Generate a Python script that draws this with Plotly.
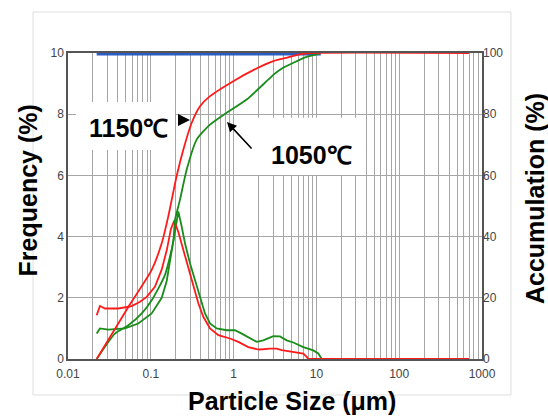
import plotly.graph_objects as go

# ---------------- data ----------------
# particle size in micrometres
red_freq_x = [0.0222, 0.0243, 0.0280, 0.0405, 0.0588, 0.0741, 0.0892, 0.112, 0.135, 0.156,
              0.175, 0.192, 0.215, 0.247, 0.284, 0.326, 0.375, 0.431, 0.519, 0.654,
              0.905, 1.14, 1.505, 1.90, 2.08, 2.75, 3.32, 3.81, 5.26, 6.95, 7.64, 7.98, 697]
red_freq_y = [1.43, 1.73, 1.65, 1.65, 1.73, 1.87, 2.03, 2.36, 2.91, 3.56,
              4.25, 4.52, 4.15, 3.56, 2.91, 2.36, 1.82, 1.38, 1.00, 0.78,
              0.67, 0.56, 0.39, 0.32, 0.31, 0.34, 0.34, 0.29, 0.23, 0.18, 0.07, 0.0, 0.0]

green_freq_x = [0.0222, 0.0243, 0.0307, 0.0488, 0.0706, 0.1025, 0.1354, 0.1556, 0.1705, 0.1869,
                0.205, 0.215, 0.236, 0.2588, 0.2974, 0.3418, 0.3928, 0.4514, 0.519, 0.625,
                0.8255, 1.04, 1.253, 1.578, 1.90, 2.284, 3.016, 3.635, 4.378, 5.26,
                6.947, 9.176, 10.54, 11.59]
green_freq_y = [0.83, 1.00, 0.96, 1.00, 1.16, 1.49, 2.00, 2.55, 3.20, 3.85,
                4.60, 4.82, 4.33, 3.78, 3.13, 2.58, 2.03, 1.49, 1.16, 1.00,
                0.94, 0.94, 0.83, 0.67, 0.56, 0.61, 0.75, 0.74, 0.61, 0.54,
                0.39, 0.28, 0.18, 0.0]

# accumulation (%)
red_cum_x = [0.0222, 0.0535, 0.1025, 0.1354, 0.1627, 0.1788, 0.205, 0.247, 0.312, 0.393,
             0.519, 0.991, 1.73, 3.07, 4.46, 6.46, 8.53, 697]
red_cum_y = [0, 17.0, 29.1, 37.8, 46.6, 52.0, 59.7, 68.4, 77.2, 82.6,
             85.9, 90.8, 94.4, 97.4, 98.5, 99.6, 100, 100]

green_cum_x = [0.0222, 0.0369, 0.0535, 0.0777, 0.1025, 0.1484, 0.1869, 0.196, 0.225, 0.272,
               0.358, 0.519, 0.8255, 1.44, 3.07, 3.71, 5.36, 7.77, 10.3, 11.3]
green_cum_y = [0, 8.3, 11.0, 14.9, 19.2, 27.5, 38.5, 45.5, 52.0, 62.0,
               71.7, 76.6, 80.5, 84.8, 93.0, 94.7, 96.9, 98.8, 99.6, 100]

blue_x = [0.0222, 11.3]
blue_y = [100, 100]

# tick labels
x_decades = [0.01, 0.1, 1, 10, 100, 1000]
x_decade_labels = ["0.01", "0.1", "1", "10", "100", "1000"]
y_left_ticks = [0, 2, 4, 6, 8, 10]
y_right_ticks = [0, 20, 40, 60, 80, 100]

RED = "#ff1a1a"
GREEN = "#1a8c1a"
BLUE = "#2a5cc4"
GRID = "#a6a6a6"
TICKFONT = dict(family="Liberation Sans Narrow, Arial Narrow, Liberation Sans, Arial", size=12, color="#444444")
TITLEFONT = dict(family="Liberation Sans, Arial", size=25, color="black")

# all grid positions on the log axis (1..9 x 10^k)
x_tickvals, x_ticktext = [], []
for d, lab in zip(x_decades, x_decade_labels):
    x_tickvals.append(d)
    x_ticktext.append(lab)
    if d < 1000:
        for m in range(2, 10):
            x_tickvals.append(d * m)
            x_ticktext.append("")

fig = go.Figure()
fig.add_trace(go.Scatter(x=blue_x, y=blue_y, mode="lines", yaxis="y2", cliponaxis=False,
                         line=dict(color=BLUE, width=5), showlegend=False))
fig.add_trace(go.Scatter(x=green_cum_x, y=green_cum_y, mode="lines", yaxis="y2",
                         line=dict(color=GREEN, width=1.8, shape="spline", smoothing=0.6), showlegend=False))
fig.add_trace(go.Scatter(x=red_cum_x, y=red_cum_y, mode="lines", yaxis="y2",
                         line=dict(color=RED, width=1.8, shape="spline", smoothing=0.6), showlegend=False))
fig.add_trace(go.Scatter(x=green_freq_x, y=green_freq_y, mode="lines",
                         line=dict(color=GREEN, width=1.8), showlegend=False))
fig.add_trace(go.Scatter(x=red_freq_x, y=red_freq_y, mode="lines",
                         line=dict(color=RED, width=1.8), showlegend=False))

fig.update_layout(
    width=548, height=416,
    margin=dict(l=68, r=66, t=53, b=57),
    paper_bgcolor="white", plot_bgcolor="white",
    xaxis=dict(type="log", range=[-2, 3.0], tickmode="array", tickvals=x_tickvals,
               ticktext=x_ticktext, showgrid=True, gridcolor=GRID, gridwidth=1,
               showline=True, linecolor="#555555", linewidth=1.5, mirror=True,
               ticks="", tickfont=TICKFONT, zeroline=False, ticklabelstandoff=3),
    yaxis=dict(range=[0, 10], tickmode="array", tickvals=y_left_ticks,
               showgrid=True, gridcolor=GRID, gridwidth=1,
               showline=True, linecolor="#555555", linewidth=1.5, mirror=True,
               ticks="", tickfont=TICKFONT, zeroline=False),
    yaxis2=dict(range=[0, 100], tickmode="array", tickvals=y_right_ticks,
                overlaying="y", side="right", showgrid=False, showline=False,
                ticks="", tickfont=TICKFONT, zeroline=False),
)

shapes = [
    dict(type="rect", xref="paper", yref="paper", x0=-0.0845, x1=1.070, y0=-0.1176, y1=1.134,
         line=dict(color="#dedede", width=1), fillcolor="rgba(0,0,0,0)", layer="below"),
    dict(type="rect", xref="paper", yref="paper", x0=0.0193, x1=0.2585, y0=0.683, y1=0.840,
         line=dict(width=0), fillcolor="white", layer="above"),
    dict(type="rect", xref="paper", yref="paper", x0=0.4517, x1=0.7101, y0=0.601, y1=0.788,
         line=dict(width=0), fillcolor="white", layer="above"),
]
fig.update_layout(shapes=shapes)

LABELFONT = dict(family="Liberation Sans, Arial", size=25, color="black")
annotations = [
    dict(text="<b>Frequency (%)</b>", xref="paper", yref="paper", x=-0.0966, y=0.551,
         textangle=-90, showarrow=False, font=TITLEFONT, xanchor="center", yanchor="middle"),
    dict(text="<b>Accumulation (%)</b>", xref="paper", yref="paper", x=1.128, y=0.526,
         textangle=-90, showarrow=False, font=TITLEFONT, xanchor="center", yanchor="middle"),
    dict(text="<b>Particle Size (μm)</b>", xref="paper", yref="paper", x=0.54, y=-0.137,
         showarrow=False, font=TITLEFONT, xanchor="center", yanchor="middle"),
    dict(text="<b>1150℃</b>", xref="paper", yref="paper", x=0.147, y=0.755,
         showarrow=False, font=LABELFONT, xanchor="center", yanchor="middle"),
    dict(text="<b>1050℃</b>", xref="paper", yref="paper", x=0.588, y=0.667,
         showarrow=False, font=LABELFONT, xanchor="center", yanchor="middle"),
    dict(text="", xref="paper", yref="paper", x=0.2947, y=0.781, ax=-11, ay=0,
         showarrow=True, arrowhead=2, arrowsize=1.6, arrowwidth=1.5, arrowcolor="black"),
    dict(text="", xref="paper", yref="paper", x=0.384, y=0.7745, ax=26, ay=28,
         showarrow=True, arrowhead=2, arrowsize=1.2, arrowwidth=1.6, arrowcolor="black"),
]
fig.update_layout(annotations=annotations)

fig.write_html("out.html", config={"displayModeBar": False},
               post_script="document.body.style.margin='0px';")
